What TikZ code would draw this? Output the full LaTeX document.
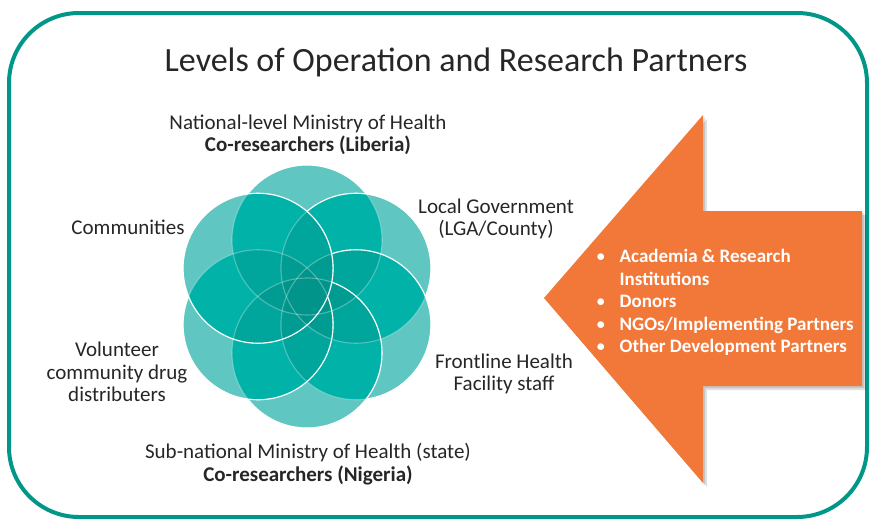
\documentclass[tikz,border=0pt]{standalone}
\usepackage{fontspec}
\setmainfont{Carlito}
\definecolor{frameteal}{RGB}{0,150,136}
\definecolor{petallight}{RGB}{96,198,193}
\definecolor{petalmid}{RGB}{0,187,177}
\definecolor{petaldark}{RGB}{0,148,138}
\definecolor{arroworange}{RGB}{241,120,56}
\definecolor{labelgray}{RGB}{38,38,38}

\begin{document}
\begin{tikzpicture}[x=1pt, y=-1pt,
    label/.style={anchor=center, align=center, text=labelgray, font=\fontsize{21}{22.5}\selectfont},
    petalline/.style={white, line width=1.1}]
    \useasboundingbox (0,0) rectangle (870,522);
    % Frame
    \draw[frameteal, line width=4, rounded corners=70] (9,13) rectangle (867,517);
    % Title
    \node[anchor=center, text=labelgray, font=\fontsize{34}{40}\selectfont] (title) at (456, 62) {Levels of Operation and Research Partners};

    % Flower of six circles
    % Centres, clockwise from the top
    \foreach \k in {0,...,5}
        \coordinate (p\k) at ({307+56.5*cos(90-60*\k)}, {296.5-56.5*sin(90-60*\k)});
    % Single cover
    \foreach \k in {0,...,5}
        \fill[petallight] (p\k) circle [radius=75];
    % Overlaps: every pair, then a darker veil per pair
    \foreach \i in {0,...,4} {
        \pgfmathtruncatemacro\nexti{\i+1}
        \foreach \j in {\nexti,...,5} {
            \begin{scope}
                \clip (p\i) circle [radius=75];
                \fill[petalmid] (p\j) circle [radius=75];
            \end{scope}
        }
    }
    \foreach \i in {0,...,4} {
        \pgfmathtruncatemacro\nexti{\i+1}
        \foreach \j in {\nexti,...,5} {
            \begin{scope}
                \clip (p\i) circle [radius=75];
                \fill[petaldark, fill opacity=0.225] (p\j) circle [radius=75];
            \end{scope}
        }
    }
    % Outlines: faint where a later circle lies on top
    \foreach \k in {0,...,5}
        \draw[petalline, opacity=0.3] (p\k) circle [radius=75];
    \foreach \k in {0,...,5} {
        \begin{scope}[even odd rule]
            \pgfmathtruncatemacro\nextk{\k+1}
            \ifnum\k<5
                \foreach \j in {\nextk,...,5} {
                    \clip (0,0) rectangle (870,522) (p\j) circle [radius=75];
                }
            \fi
            \draw[petalline] (p\k) circle [radius=75];
        \end{scope}
    }

    % Labels round the flower
    \node[label] (national) at (308, 135) {National-level Ministry of Health\\ \textbf{Co-researchers (Liberia)}};
    \node[label] (communities) at (128, 227) {Communities};
    \node[label] (localgov) at (496, 219) {Local Government\\ (LGA/County)};
    \node[label] (volunteer) at (117, 372) {Volunteer\\ community drug\\ distributers};
    \node[label] (frontline) at (504, 374) {Frontline Health\\ Facility staff};
    \node[label] (subnational) at (308, 464) {Sub-national Ministry of Health (state)\\ \textbf{Co-researchers (Nigeria)}};

    % Partners arrow
    \fill[black, opacity=0.12] (548,302) -- (707,119) -- (707,215) -- (866,215) -- (866,390) -- (707,390) -- (707,487) -- cycle;
    \fill[black, opacity=0.12] (546,300) -- (705,117) -- (705,213) -- (864,213) -- (864,388) -- (705,388) -- (705,485) -- cycle;
    \fill[arroworange] (544,298) -- (703,115) -- (703,211) -- (862,211) -- (862,386) -- (703,386) -- (703,483) -- cycle;
    \node[anchor=west, inner sep=0, text=white, font=\fontsize{19}{22.5}\selectfont] (partners) at (596, 303) {%
        \begin{tabular}{@{}l@{\hspace{14pt}}l@{}}
        • & \textbf{Academia \& Research}\\
          & \textbf{Institutions}\\
        • & \textbf{Donors}\\
        • & \textbf{NGOs/Implementing Partners}\\
        • & \textbf{Other Development Partners}
        \end{tabular}};
\end{tikzpicture}
\end{document}
